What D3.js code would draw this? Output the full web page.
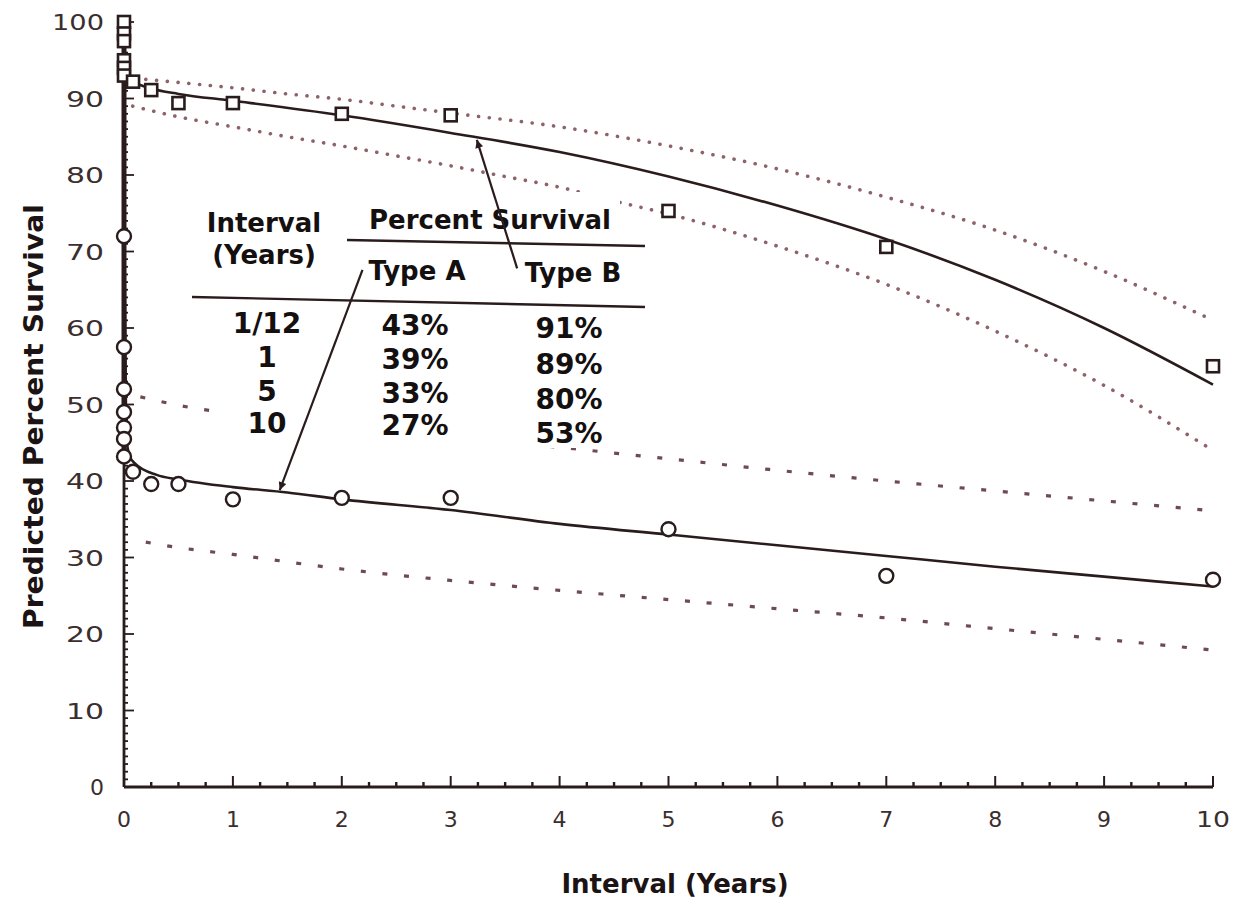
<!DOCTYPE html>
<html>
<head>
<meta charset="utf-8">
<script src="https://cdn.jsdelivr.net/npm/d3@7"></script>
<style>
  html, body { margin: 0; padding: 0; background: #fff; }
  svg { display: block; }
</style>
</head>
<body>
<svg id="chart" width="1239" height="903"></svg>
<script>
// ---------------- DATA ----------------
const xTicks = [0, 1, 2, 3, 4, 5, 6, 7, 8, 9, 10];
const yTicks = [0, 10, 20, 30, 40, 50, 60, 70, 80, 90, 100];

// Observed points, Type B (squares)
const typeBX = [0, 0, 0, 0, 0, 0, 0.083, 0.25, 0.5, 1, 2, 3, 5, 7, 10];
const typeBY = [100, 98.5, 97.5, 95, 94, 93, 92.2, 91.1, 89.4, 89.4, 88, 87.8, 75.3, 70.6, 55];
// Observed points, Type A (circles)
const typeAX = [0, 0, 0, 0, 0, 0, 0, 0.083, 0.25, 0.5, 1, 2, 3, 5, 7, 10];
const typeAY = [72, 57.5, 52, 49, 47, 45.5, 43.2, 41.2, 39.6, 39.6, 37.6, 37.8, 37.8, 33.7, 27.6, 27.1];

// Fitted curve, Type B
const fitBX = [0, 0.01, 0.03, 0.06, 0.1, 0.25, 0.5, 1, 2, 3, 4, 5, 6, 7, 8, 9, 10];
const fitBY = [100, 95, 93.2, 92.5, 92.1, 91.3, 90.6, 89.7, 87.8, 85.5, 83, 79.8, 76, 71.6, 66.3, 60, 52.6];
// Fitted curve, Type A
const fitAX = [0, 0.005, 0.02, 0.05, 0.1, 0.3, 0.5, 1, 1.5, 2, 3, 4, 5, 6, 7, 8, 9, 10];
const fitAY = [100, 70, 46, 43.3, 42.3, 40.8, 40.2, 39.2, 38.5, 37.6, 36.2, 34.4, 33, 31.6, 30.2, 28.8, 27.5, 26.2];

// Confidence bands, Type B
const bandBUpX = [0.2, 0.5, 1, 1.5, 2, 2.5, 3, 4, 5, 6, 7, 8, 9, 10];
const bandBUpY = [92.5, 92.1, 91.4, 90.6, 89.9, 89, 88.1, 86.3, 83.8, 80.8, 77.1, 72.8, 67.4, 61];
const bandBLoX = [0.08, 0.5, 1, 1.5, 2, 2.5, 3, 3.5, 4, 4.5, 5, 6, 7, 8, 9, 10];
const bandBLoY = [89, 87.6, 86.3, 85, 83.8, 82.5, 81.2, 79.8, 78.4, 76.6, 74.9, 70.7, 65.7, 59.6, 52.5, 44];
// Confidence bands, Type A
const bandAUpX = [0.15, 0.5, 1, 2, 3, 4, 5, 6, 7, 8, 9, 10];
const bandAUpY = [51, 49.9, 48.8, 47.2, 45.8, 44.4, 42.9, 41.4, 40, 38.7, 37.4, 36.1];
const bandALoX = [0.2, 0.5, 1, 2, 3, 4, 5, 6, 7, 8, 9, 10];
const bandALoY = [32, 31.3, 30.4, 28.5, 27, 25.7, 24.5, 23.3, 22.1, 20.7, 19.3, 17.9];

// Inset table
const tableIntervals = ["1/12", "1", "5", "10"];
const tableTypeA = ["43%", "39%", "33%", "27%"];
const tableTypeB = ["91%", "89%", "80%", "53%"];

// Annotation arrows (data coordinates: [x, y] from -> to)
const arrowB = [[3.61, 67.8], [3.24, 84.6]];
const arrowA = [[2.19, 67.6], [1.43, 38.8]];

// ---------------- DRAW ----------------
const svg = d3.select("#chart");
const ink = "#2a1c1c";
const dotCol = "#8e6269";

const x = d3.scaleLinear().domain([0, 10]).range([124, 1213]);
const y = d3.scaleLinear().domain([0, 100]).range([787, 22]);

const zip = (xs, ys) => xs.map((v, i) => [v, ys[i]]);
const line = d3.line().x(d => x(d[0])).y(d => y(d[1])).curve(d3.curveMonotoneX);

svg.append("rect").attr("width", 1239).attr("height", 903).attr("fill", "#fff");

const defs = svg.append("defs");
defs.append("marker").attr("id", "arrowhead")
  .attr("viewBox", "0 0 10 10").attr("refX", 10).attr("refY", 5)
  .attr("markerWidth", 14).attr("markerHeight", 8).attr("markerUnits", "userSpaceOnUse")
  .attr("orient", "auto")
  .append("path").attr("d", "M0,0 L10,5 L0,10 Z").attr("fill", ink);

// Bands
const bands = svg.append("g");
[[bandBUpX, bandBUpY], [bandBLoX, bandBLoY]].forEach(([xs, ys]) => {
  bands.append("path").attr("d", line(zip(xs, ys)))
    .attr("fill", "none").attr("stroke", dotCol).attr("stroke-width", 3.6)
    .attr("stroke-linecap", "round").attr("stroke-dasharray", "0.1,10.7");
});
[[bandAUpX, bandAUpY], [bandALoX, bandALoY]].forEach(([xs, ys]) => {
  bands.append("path").attr("d", line(zip(xs, ys)))
    .attr("fill", "none").attr("stroke", "#6e4b50").attr("stroke-width", 3.2)
    .attr("stroke-dasharray", "5,16.7");
});

// Table background (hides band lines behind the inset table)
svg.append("rect").attr("x", 218).attr("y", 192).attr("width", 402).attr("height", 256).attr("fill", "#fff");

// Fitted curves
svg.append("path").attr("d", line(zip(fitBX, fitBY)))
  .attr("fill", "none").attr("stroke", ink).attr("stroke-width", 2.6);
svg.append("path").attr("d", line(zip(fitAX, fitAY)))
  .attr("fill", "none").attr("stroke", ink).attr("stroke-width", 2.6);

// Axes: domain lines and tick marks from the scales
const axes = svg.append("g").attr("stroke", ink);
axes.append("line").attr("x1", x(0)).attr("x2", x(10)).attr("y1", y(0)).attr("y2", y(0)).attr("stroke-width", 2.8);
axes.append("line").attr("x1", x(0)).attr("x2", x(0)).attr("y1", y(0)).attr("y2", y(100)).attr("stroke-width", 2.8);
// thick trace on the axis where both fitted curves fall from 100%
axes.append("line").attr("x1", x(0)).attr("x2", x(0)).attr("y1", y(43.5)).attr("y2", y(100)).attr("stroke-width", 5);
const xMinor = d3.range(0, 41).map(i => i / 4);
axes.selectAll("line.xt").data(xMinor).join("line").attr("class", "xt")
  .attr("x1", d => x(d)).attr("x2", d => x(d))
  .attr("y1", y(0)).attr("y2", d => y(0) - (Number.isInteger(d) ? 11 : 5))
  .attr("stroke-width", d => Number.isInteger(d) ? 2 : 2.4);
const yMinor = d3.range(0, 101);
axes.selectAll("line.yt").data(yMinor).join("line").attr("class", "yt")
  .attr("y1", d => y(d)).attr("y2", d => y(d))
  .attr("x1", x(0)).attr("x2", d => x(0) + (d % 10 === 0 ? 10 : 4))
  .attr("stroke-width", 1.8);

// Tick labels
const tickFont = "'DejaVu Sans', sans-serif";
svg.append("g").selectAll("text").data(xTicks).join("text")
  .attr("x", d => x(d)).attr("y", 827)
  .attr("text-anchor", "middle")
  .attr("font-family", tickFont).attr("font-size", 22).attr("fill", "#3a2e2e")
  .each(function(d) { if (String(d).length > 1) d3.select(this).attr("textLength", 34).attr("lengthAdjust", "spacingAndGlyphs"); })
  .text(d => d);
svg.append("g").selectAll("text").data(yTicks).join("text")
  .attr("x", 104).attr("y", d => y(d) + 8)
  .attr("text-anchor", "end")
  .attr("font-family", tickFont).attr("font-size", 22).attr("fill", "#3a2e2e")
  .each(function(d) {
    const n = String(d).length;
    if (n > 1) d3.select(this).attr("textLength", n === 3 ? 52 : 38).attr("lengthAdjust", "spacingAndGlyphs");
  })
  .text(d => d);

// Axis titles
const boldFont = "'DejaVu Sans', sans-serif";
svg.append("text")
  .attr("transform", `translate(43,${(y(0) + y(100)) / 2 + 12}) rotate(-90)`)
  .attr("text-anchor", "middle")
  .attr("font-family", boldFont).attr("font-weight", "bold").attr("font-size", 26).attr("fill", "#1c1414")
  .attr("textLength", 425).attr("lengthAdjust", "spacingAndGlyphs")
  .text("Predicted Percent Survival");
svg.append("text")
  .attr("x", 675).attr("y", 893).attr("text-anchor", "middle")
  .attr("font-family", boldFont).attr("font-weight", "bold").attr("font-size", 26).attr("fill", "#1c1414")
  .text("Interval (Years)");

// Markers
svg.append("g").selectAll("rect").data(zip(typeBX, typeBY)).join("rect")
  .attr("x", d => x(d[0]) - 6).attr("y", d => y(d[1]) - 6)
  .attr("width", 12).attr("height", 12)
  .attr("fill", "#fff").attr("stroke", ink).attr("stroke-width", 2.6);
svg.append("g").selectAll("circle").data(zip(typeAX, typeAY)).join("circle")
  .attr("cx", d => x(d[0])).attr("cy", d => y(d[1])).attr("r", 7)
  .attr("fill", "#fff").attr("stroke", ink).attr("stroke-width", 2.4);

// Table
const tbl = svg.append("g").attr("font-family", boldFont).attr("font-weight", "bold").attr("fill", "#141010");
const head = [
  ["Interval", 264, 232], ["(Years)", 264, 264],
  ["Percent Survival", 490, 229], ["Type A", 417, 280], ["Type B", 573, 282]
];
tbl.selectAll("text.h").data(head).join("text").attr("class", "h")
  .attr("x", d => d[1]).attr("y", d => d[2]).attr("text-anchor", "middle").attr("font-size", 26)
  .text(d => d[0]);
tbl.append("line").attr("x1", 347).attr("y1", 240).attr("x2", 645).attr("y2", 246)
  .attr("stroke", ink).attr("stroke-width", 2.4);
tbl.append("line").attr("x1", 192).attr("y1", 297).attr("x2", 645).attr("y2", 307)
  .attr("stroke", ink).attr("stroke-width", 2.4);
const rowBase = [333, 367, 401, 433];
tbl.selectAll("text.ci").data(tableIntervals).join("text").attr("class", "ci")
  .attr("x", 267).attr("y", (d, i) => rowBase[i]).attr("text-anchor", "middle").attr("font-size", 28).text(d => d);
tbl.selectAll("text.ca").data(tableTypeA).join("text").attr("class", "ca")
  .attr("x", 415).attr("y", (d, i) => rowBase[i] + 2).attr("text-anchor", "middle").attr("font-size", 28).text(d => d);
tbl.selectAll("text.cb").data(tableTypeB).join("text").attr("class", "cb")
  .attr("x", 569).attr("y", (d, i) => rowBase[i] + 5 + i * 1.5).attr("text-anchor", "middle").attr("font-size", 28).text(d => d);

// Arrows
[arrowB, arrowA].forEach(a => {
  svg.append("line")
    .attr("x1", x(a[0][0])).attr("y1", y(a[0][1]))
    .attr("x2", x(a[1][0])).attr("y2", y(a[1][1]))
    .attr("stroke", ink).attr("stroke-width", 2.2)
    .attr("marker-end", "url(#arrowhead)");
});
</script>
</body>
</html>
